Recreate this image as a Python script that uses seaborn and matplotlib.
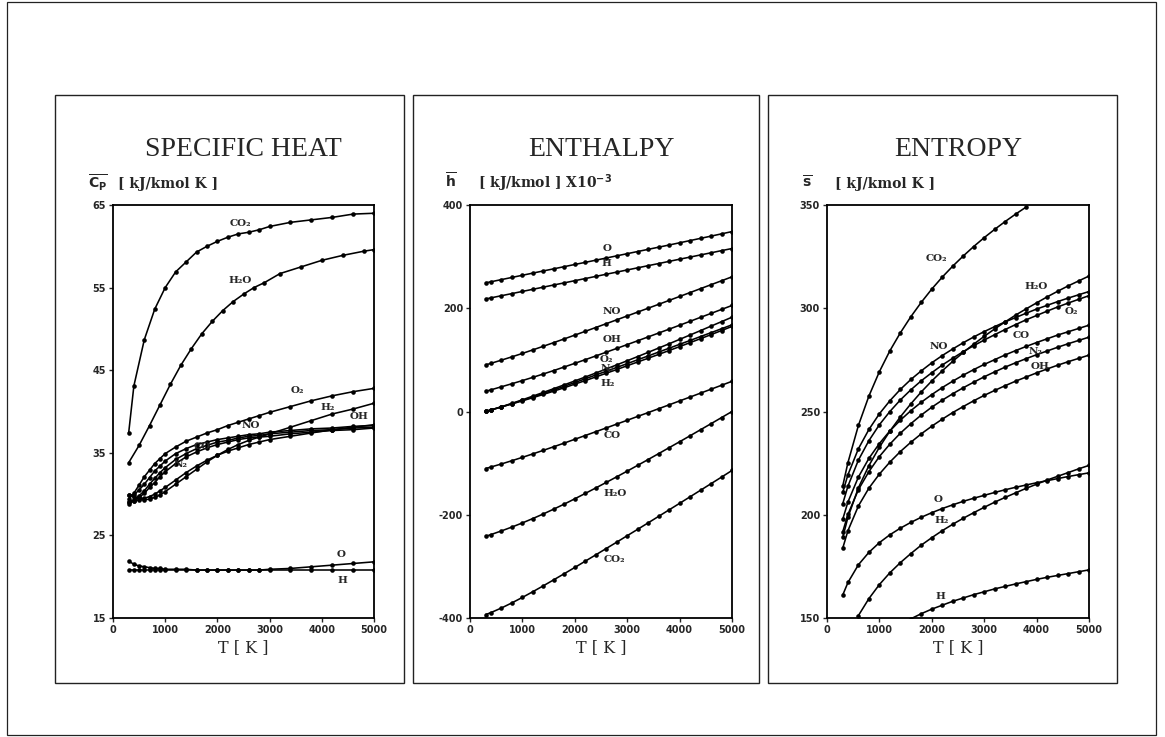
import matplotlib
matplotlib.use("Agg")
import matplotlib.pyplot as plt
import seaborn as sns
from matplotlib.patches import Rectangle

# ---------------- data ----------------
# specific heat, kJ/kmol K
T_CP = [300, 400, 500, 600, 700, 800, 900, 1000, 1200, 1400, 1600, 1800, 2000,
        2200, 2400, 2600, 2800, 3000, 3400, 3800, 4200, 4600, 5000]
T_CP_CO2 = [300, 400, 600, 800, 1000, 1200, 1400, 1600, 1800, 2000, 2200, 2400,
            2600, 2800, 3000, 3400, 3800, 4200, 4600, 5000]
T_CP_H2O = [300, 500, 700, 900, 1100, 1300, 1500, 1700, 1900, 2100, 2300, 2500,
            2700, 2900, 3200, 3600, 4000, 4400, 4800, 5000]
CP_CO2 = [37.4, 43.1, 48.7, 52.4, 55.0, 56.9, 58.1, 59.3, 60.0, 60.6, 61.1, 61.5,
          61.7, 62.0, 62.4, 62.9, 63.2, 63.5, 63.9, 64.0]
CP_H2O = [33.8, 35.9, 38.3, 40.8, 43.3, 45.6, 47.6, 49.4, 50.9, 52.2, 53.3, 54.2,
          55.0, 55.6, 56.7, 57.5, 58.3, 58.9, 59.4, 59.6]
CP_O2 = [29.4, 30.1, 31.1, 32.1, 32.9, 33.7, 34.3, 34.9, 35.7, 36.4, 36.9, 37.4,
         37.8, 38.3, 38.7, 39.1, 39.5, 39.9, 40.6, 41.3, 41.9, 42.4, 42.8]
CP_H2 = [28.8, 29.2, 29.3, 29.3, 29.4, 29.6, 29.9, 30.3, 31.2, 32.1, 33.0, 33.9,
         34.7, 35.4, 36.0, 36.5, 36.9, 37.3, 38.1, 38.9, 39.7, 40.3, 41.0]
CP_OH = [29.9, 29.6, 29.5, 29.5, 29.7, 30.0, 30.4, 30.8, 31.7, 32.6, 33.4, 34.1,
         34.7, 35.2, 35.6, 36.0, 36.3, 36.6, 37.0, 37.4, 37.8, 38.1, 38.4]
CP_NO = [29.9, 29.9, 30.5, 31.2, 32.0, 32.8, 33.4, 34.0, 34.9, 35.5, 36.0, 36.3,
         36.6, 36.8, 37.0, 37.2, 37.3, 37.5, 37.7, 37.9, 38.0, 38.2, 38.3]
CP_CO = [29.1, 29.3, 29.8, 30.4, 31.2, 31.9, 32.6, 33.2, 34.2, 34.9, 35.5, 35.9,
         36.3, 36.5, 36.8, 37.0, 37.1, 37.3, 37.5, 37.7, 37.8, 38.0, 38.1]
CP_N2 = [29.1, 29.2, 29.6, 30.1, 30.8, 31.4, 32.1, 32.7, 33.7, 34.5, 35.1, 35.6,
         36.0, 36.3, 36.6, 36.8, 36.9, 37.0, 37.3, 37.5, 37.7, 37.8, 38.0]
CP_O = [21.9, 21.5, 21.3, 21.2, 21.1, 21.0, 21.0, 20.9, 20.9, 20.9, 20.8, 20.8,
        20.8, 20.8, 20.8, 20.8, 20.8, 20.9, 21.0, 21.2, 21.4, 21.6, 21.8]
CP_H = [20.8, 20.8, 20.8, 20.8, 20.8, 20.8, 20.8, 20.8, 20.8, 20.8, 20.8, 20.8,
        20.8, 20.8, 20.8, 20.8, 20.8, 20.8, 20.8, 20.8, 20.8, 20.8, 20.8]

# enthalpy, kJ/kmol x 10^-3
T_H = [300, 400, 600, 800, 1000, 1200, 1400, 1600, 1800, 2000, 2200, 2400, 2600,
       2800, 3000, 3200, 3400, 3600, 3800, 4000, 4200, 4400, 4600, 4800, 5000]
H_O = [249.2, 251.3, 255.5, 259.7, 263.9, 268.1, 272.3, 276.4, 280.6, 284.8, 288.9,
       293.1, 297.3, 301.5, 305.7, 309.9, 314.1, 318.3, 322.5, 326.8, 331.1, 335.4,
       339.7, 344.1, 348.5]
H_H = [218.0, 220.1, 224.3, 228.4, 232.6, 236.7, 240.9, 245.1, 249.2, 253.4, 257.5,
       261.7, 265.9, 270.0, 274.2, 278.3, 282.5, 286.6, 290.8, 295.0, 299.1, 303.3,
       307.4, 311.6, 315.7]
H_NO = [90.3, 93.3, 99.5, 105.9, 112.5, 119.4, 126.4, 133.5, 140.7, 148.0, 155.3,
        162.7, 170.1, 177.6, 185.1, 192.6, 200.1, 207.6, 215.2, 222.8, 230.4, 238.0,
        245.6, 253.2, 260.9]
H_OH = [39.0, 42.0, 47.9, 53.8, 59.9, 66.2, 72.7, 79.4, 86.3, 93.3, 100.4, 107.6,
        114.9, 122.2, 129.6, 137.0, 144.5, 152.0, 159.5, 167.1, 174.7, 182.4, 190.0,
        197.7, 205.4]
H_O2 = [0.1, 3.0, 9.2, 15.8, 22.7, 29.8, 37.0, 44.3, 51.7, 59.2, 66.8, 74.5, 82.4,
        90.3, 98.3, 106.4, 114.6, 122.9, 131.2, 139.7, 148.2, 156.7, 165.4, 174.0,
        182.7]
H_N2 = [0.1, 3.0, 8.9, 15.1, 21.5, 28.1, 34.9, 41.9, 49.0, 56.1, 63.4, 70.7, 78.0,
        85.4, 92.7, 100.2, 107.6, 115.1, 122.6, 130.1, 137.6, 145.2, 152.7, 160.3,
        167.9]
H_H2 = [0.1, 3.0, 8.8, 14.7, 20.7, 26.8, 33.1, 39.5, 46.1, 53.0, 59.9, 66.9, 74.1,
        81.3, 88.7, 95.9, 103.2, 110.6, 118.1, 125.7, 133.4, 141.1, 148.9, 156.8,
        164.8]
H_CO = [-110.5, -107.5, -101.6, -95.3, -88.8, -82.1, -75.2, -68.2, -61.1, -53.8,
        -46.5, -39.2, -31.8, -24.4, -17.0, -9.5, -2.1, 5.4, 12.9, 20.5, 28.0, 35.6,
        43.2, 50.8, 58.5]
H_H2O = [-241.8, -238.4, -231.3, -223.8, -215.8, -207.3, -198.4, -189.0, -179.3,
         -169.1, -158.7, -148.1, -137.4, -126.5, -115.5, -104.3, -93.0, -81.6, -70.1,
         -58.6, -47.0, -35.3, -23.6, -11.8, 0.0]
H_CO2 = [-393.4, -389.5, -380.6, -370.7, -360.1, -349.0, -337.6, -325.9, -314.1,
         -302.1, -289.9, -277.7, -265.4, -253.1, -240.6, -228.2, -215.7, -203.1,
         -190.5, -177.9, -165.2, -152.5, -139.8, -127.1, -114.2]

# entropy, kJ/kmol K
T_S = T_H
T_S_CO2 = [300, 400, 600, 800, 1000, 1200, 1400, 1600, 1800, 2000, 2200, 2400, 2600,
           2800, 3000, 3200, 3400, 3600, 3800]
T_S_H2 = [600, 800, 1000, 1200, 1400, 1600, 1800, 2000, 2200, 2400, 2600, 2800,
          3000, 3200, 3400, 3600, 3800, 4000, 4200, 4400, 4600, 4800, 5000]
T_S_H = [1600, 1800, 2000, 2200, 2400, 2600, 2800, 3000, 3200, 3400, 3600, 3800,
         4000, 4200, 4400, 4600, 4800, 5000]
S_CO2 = [213.9, 225.3, 243.3, 257.5, 269.3, 279.4, 288.1, 295.9, 302.9, 309.3, 315.1,
         320.4, 325.3, 329.9, 334.2, 338.2, 342.0, 345.6, 349.0]
S_H2O = [189.0, 198.8, 213.1, 223.8, 232.7, 240.5, 247.4, 253.7, 259.5, 264.8, 269.7,
         274.3, 278.6, 282.6, 286.4, 290.0, 293.4, 296.7, 299.7, 302.6, 305.5, 308.2,
         310.8, 313.2, 315.6]
S_NO = [210.8, 219.4, 232.0, 241.3, 248.9, 255.2, 260.7, 265.5, 269.7, 273.6, 277.1,
        280.3, 283.3, 286.1, 288.7, 291.1, 293.4, 295.5, 297.6, 299.6, 301.4, 303.2,
        304.9, 306.5, 308.1]
S_O2 = [205.3, 213.9, 226.5, 235.9, 243.6, 250.0, 255.6, 260.5, 264.9, 268.8, 272.5,
        275.8, 279.0, 281.9, 284.6, 287.2, 289.7, 292.1, 294.4, 296.5, 298.6, 300.6,
        302.5, 304.3, 306.1]
S_CO = [197.8, 206.2, 218.3, 227.3, 234.5, 240.6, 245.8, 250.4, 254.5, 258.2, 261.6,
        264.7, 267.6, 270.3, 272.8, 275.1, 277.4, 279.5, 281.5, 283.4, 285.2, 287.0,
        288.6, 290.2, 291.8]
S_N2 = [191.7, 200.2, 212.2, 220.9, 228.2, 234.2, 239.5, 244.1, 248.3, 252.1, 255.5,
        258.6, 261.5, 264.2, 266.8, 269.2, 271.5, 273.6, 275.6, 277.5, 279.3, 281.1,
        282.8, 284.4, 286.0]
S_OH = [183.8, 192.3, 204.3, 212.9, 219.7, 225.5, 230.6, 235.1, 239.2, 242.9, 246.3,
        249.5, 252.4, 255.2, 257.8, 260.2, 262.5, 264.7, 266.7, 268.7, 270.6, 272.4,
        274.1, 275.7, 277.3]
S_O = [161.1, 167.2, 175.8, 181.8, 186.5, 190.3, 193.5, 196.3, 198.8, 201.0, 203.0,
       204.8, 206.5, 208.0, 209.4, 210.8, 212.1, 213.3, 214.4, 215.5, 216.5, 217.5,
       218.5, 219.4, 220.3]
S_H2 = [151.2, 159.4, 166.2, 171.9, 176.8, 181.2, 185.3, 188.9, 192.3, 195.4, 198.3,
        201.0, 203.6, 206.1, 208.4, 210.6, 212.8, 214.8, 216.8, 218.6, 220.4, 222.2,
        223.9]
S_H = [149.6, 152.1, 154.3, 156.2, 158.1, 159.7, 161.3, 162.7, 164.1, 165.3, 166.5,
       167.6, 168.7, 169.7, 170.6, 171.5, 172.4, 173.3]

# ---------------- style ----------------
sns.set_style("ticks")
plt.rcParams["font.family"] = ["DejaVu Serif", "DejaVu Sans"]
plt.rcParams["axes.unicode_minus"] = False

W, H = 1165, 737
fig = plt.figure(figsize=(W / 100, H / 100), dpi=100)
fig.patch.set_facecolor("white")


def rect_px(x0, y0, x1, y1, lw=1.0):
    fig.add_artist(Rectangle((x0 / W, 1 - y1 / H), (x1 - x0) / W, (y1 - y0) / H,
                             transform=fig.transFigure, fill=False,
                             edgecolor="#222222", linewidth=lw))


def axes_px(x0, y0, x1, y1):
    return fig.add_axes([x0 / W, 1 - y1 / H, (x1 - x0) / W, (y1 - y0) / H])


# outer frame and the three panel boxes
rect_px(7, 2, 1156, 735, lw=0.9)
rect_px(55, 95, 404, 683)
rect_px(413, 95, 759, 683)
rect_px(768, 95, 1117, 683)

LINE = dict(color="black", linewidth=1.15, marker="o", markersize=3.3,
            markeredgewidth=0, legend=False)
LBL = dict(fontsize=7.5, fontweight="bold", ha="center", va="center",
           family=["DejaVu Serif", "DejaVu Sans"])


def style_axes(ax, ylim, yticks, title, sym, unit, unit_x):
    ax.set_xlim(0, 5000)
    ax.set_ylim(*ylim)
    ax.set_xticks([0, 1000, 2000, 3000, 4000, 5000])
    ax.set_yticks(yticks)
    for s in ax.spines.values():
        s.set_visible(True)
        s.set_linewidth(1.3)
        s.set_color("black")
    ax.tick_params(direction="out", length=3, width=1.0, pad=2)
    for t in ax.get_xticklabels() + ax.get_yticklabels():
        t.set_family("DejaVu Sans")
        t.set_fontweight("bold")
        t.set_fontsize(7)
    ax.set_xlabel("")
    ax.set_ylabel("")
    ax.text(0.5, 1.119, title, transform=ax.transAxes, ha="center",
            va="baseline", fontsize=20, family="Liberation Serif")
    ax.text(-0.097, 1.041, sym, transform=ax.transAxes, ha="left",
            va="baseline", fontsize=10, fontweight="bold")
    ax.text(unit_x, 1.041, unit, transform=ax.transAxes, ha="left",
            va="baseline", fontsize=10, fontweight="bold")
    ax.text(0.5, -0.082, "T [ K ]", transform=ax.transAxes, ha="center",
            va="baseline", fontsize=11.5)


# ---------------- specific heat ----------------
ax1 = axes_px(113, 205, 374, 618)
sns.lineplot(x=T_CP_CO2, y=CP_CO2, ax=ax1, **LINE)
sns.lineplot(x=T_CP_H2O, y=CP_H2O, ax=ax1, **LINE)
for vals in [CP_O2, CP_H2, CP_OH, CP_NO, CP_CO, CP_N2, CP_O, CP_H]:
    sns.lineplot(x=T_CP, y=vals, ax=ax1, **LINE)
style_axes(ax1, (15, 65), [15, 25, 35, 45, 55, 65], "SPECIFIC HEAT",
           r"$\overline{\mathbf{C_P}}$", "[ kJ/kmol K ]", 0.018)
for txt, x, y in [("CO₂", 2440, 62.8), ("H₂O", 2440, 55.9), ("O₂", 3525, 42.6),
                  ("H₂", 4120, 40.5), ("OH", 4706, 39.4), ("NO", 2632, 38.3),
                  ("CO", 1705, 35.8), ("N₂", 1291, 33.6), ("O", 4368, 22.7),
                  ("H", 4387, 19.5)]:
    ax1.text(x, y, txt, **LBL)

# ---------------- enthalpy ----------------
ax2 = axes_px(470, 205, 732, 618)
for vals in [H_O, H_H, H_NO, H_OH, H_O2, H_N2, H_H2, H_CO, H_H2O, H_CO2]:
    sns.lineplot(x=T_H, y=vals, ax=ax2, **LINE)
style_axes(ax2, (-400, 400), [-400, -200, 0, 200, 400], "ENTHALPY",
           r"$\overline{\mathbf{h}}$", r"[ kJ/kmol ] X10$^{\mathbf{-3}}$", 0.032)
for txt, x, y in [("O", 2609, 316.7), ("H", 2609, 287), ("NO", 2704, 193.4),
                  ("OH", 2704, 140), ("O₂", 2609, 101.3), ("N₂", 2620, 83.8),
                  ("H₂", 2620, 54.8), ("CO", 2704, -46.5), ("H₂O", 2767, -158),
                  ("CO₂", 2748, -287)]:
    ax2.text(x, y, txt, **LBL)

# ---------------- entropy ----------------
ax3 = axes_px(827, 205, 1089, 618)
sns.lineplot(x=T_S_CO2, y=S_CO2, ax=ax3, **LINE)
for vals in [S_H2O, S_NO, S_O2, S_CO, S_N2, S_OH, S_O]:
    sns.lineplot(x=T_S, y=vals, ax=ax3, **LINE)
sns.lineplot(x=T_S_H2, y=S_H2, ax=ax3, **LINE)
sns.lineplot(x=T_S_H, y=S_H, ax=ax3, **LINE)
style_axes(ax3, (150, 350), [150, 200, 250, 300, 350], "ENTROPY",
           r"$\overline{\mathbf{s}}$", "[ kJ/kmol K ]", 0.030)
for txt, x, y in [("CO₂", 2094, 324.2), ("H₂O", 3983, 310.4), ("O₂", 4656, 298.3),
                  ("NO", 2125, 281.7), ("CO", 3715, 286.6), ("N₂", 3983, 279.0),
                  ("OH", 4065, 272.0), ("O", 2125, 207.6), ("H₂", 2188, 197.3),
                  ("H", 2157, 160.3)]:
    ax3.text(x, y, txt, **LBL)

fig.savefig("out.png", dpi=100, facecolor="white")
